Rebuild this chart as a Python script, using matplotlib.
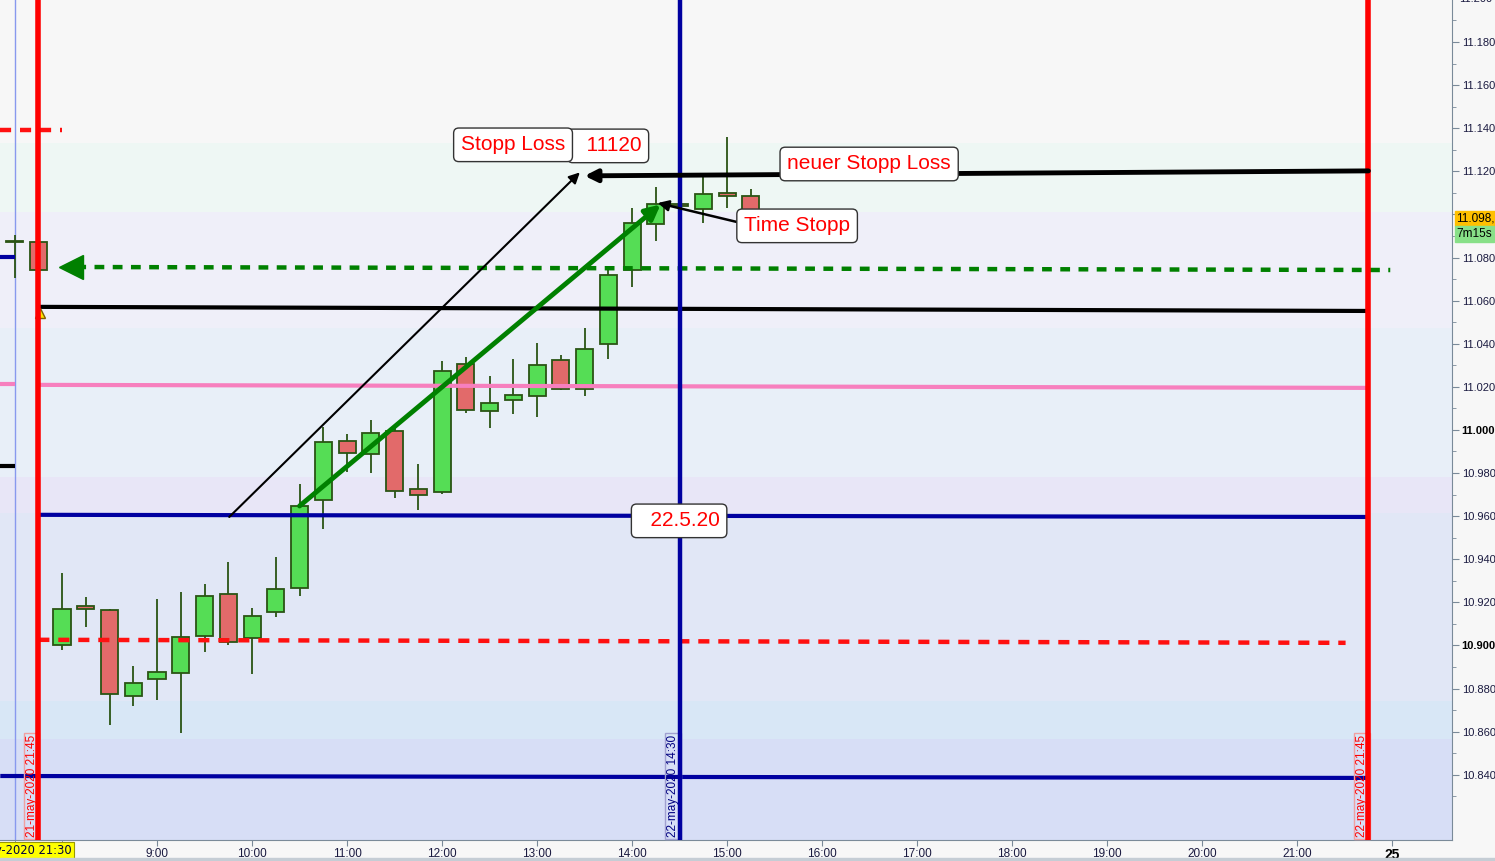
import matplotlib
matplotlib.use("Agg")
import matplotlib.pyplot as plt
import matplotlib.transforms as mtransforms
import numpy as np

plt.rcParams['font.family'] = ['Liberation Sans', 'DejaVu Sans']

# --- candles (time, open, high, low, close) ---
prev_times = ["21:30", "21:45"]
prev_open = [11.0872, 11.0872]
prev_high = [11.0905, 11.0872]
prev_low = [11.0705, 11.0742]
prev_close = [11.0876, 11.0742]

day_times = ["8:00", "8:15", "8:30", "8:45", "9:00", "9:15", "9:30", "9:45",
             "10:00", "10:15", "10:30", "10:45", "11:00", "11:15", "11:30", "11:45",
             "12:00", "12:15", "12:30", "12:45", "13:00", "13:15", "13:30", "13:45",
             "14:00", "14:15", "14:30", "14:45", "15:00", "15:15"]
day_open = [10.9002, 10.9183, 10.9165, 10.8766, 10.8845, 10.8872, 10.9044, 10.9239,
            10.9035, 10.9155, 10.9267, 10.9675, 10.9949, 10.9889, 10.9995, 10.9726,
            10.9714, 11.0306, 11.0088, 11.0139, 11.0158, 11.0325, 11.0190, 11.0399,
            11.0742, 11.0956, 11.1049, 11.1026, 11.1100, 11.1086]
day_high = [10.9336, 10.9225, 10.9170, 10.8905, 10.9216, 10.9248, 10.9285, 10.9387,
            10.9174, 10.9411, 10.9749, 11.0014, 10.9981, 11.0046, 11.0014, 10.9842,
            11.0320, 11.0339, 11.0251, 11.0329, 11.0404, 11.0348, 11.0473, 11.0752,
            11.1030, 11.1129, 11.1049, 11.1175, 11.1360, 11.1118]
day_low = [10.8979, 10.9086, 10.8631, 10.8719, 10.8747, 10.8594, 10.8970, 10.9002,
           10.8868, 10.9132, 10.9230, 10.9541, 10.9805, 10.9800, 10.9684, 10.9629,
           10.9703, 11.0080, 11.0010, 11.0076, 11.0062, 11.0186, 11.0158, 11.0329,
           11.0664, 11.0877, 11.1039, 11.0961, 11.1030, 11.0982]
day_close = [10.9169, 10.9169, 10.8775, 10.8826, 10.8877, 10.9039, 10.9230, 10.9016,
             10.9137, 10.9262, 10.9647, 10.9944, 10.9893, 10.9986, 10.9717, 10.9698,
             11.0274, 11.0094, 11.0125, 11.0162, 11.0302, 11.0190, 11.0376, 11.0719,
             11.0961, 11.1049, 11.1039, 11.1095, 11.1086, 11.0982]

# --- drawn lines (x0, p0, x1, p1) in hours / price ---
black_line = (7.75, 11.0571, 21.75, 11.0552)
pink_line = (7.75, 11.0209, 21.75, 11.0195)
blue_line_mid = (7.75, 10.9606, 21.75, 10.9596)
blue_line_low = (7.35, 10.8394, 21.75, 10.8385)
red_dash_line = (7.75, 10.9026, 21.51, 10.9012)
green_dash_line = (8.15, 11.0756, 21.98, 11.0742)
stopp_line = (21.75, 11.1202, 13.50, 11.1179)
left_red_dash = (7.35, 11.1392, 8.0, 11.1392)
left_blue = (7.35, 11.0803, 7.5, 11.0803)
left_pink = (7.35, 11.0213, 7.5, 11.0213)
left_black = (7.35, 10.9833, 7.5, 10.9833)

thin_arrow = (9.76, 10.9596, 13.45, 11.1195)
green_arrow = (10.50, 10.9647, 14.30, 11.1046)
time_arrow = (15.14, 11.0961, 14.27, 11.1053)

red_vlines = [7.75, 21.75]
blue_vline = 14.5
cursor_x = 7.5
last_price = 11.0982

band_edges = [11.25, 11.1332, 11.1012, 11.0473, 10.9782, 10.9615, 10.8742, 10.8566, 10.70]
band_colors = ["#f7f7f7", "#eef7f4", "#efeff9", "#e8eff8", "#e8e6f7", "#e1e7f6", "#d8e7f6", "#d7def6"]

xtick_pos = list(range(9, 23))
xtick_lab = [f"{h}:00" for h in range(9, 22)] + ["25"]


def to_hours(t, prev=False):
    h, m = map(int, t.split(":"))
    v = h + m / 60
    return v - 14 if prev else v


fig = plt.figure(figsize=(14.95, 8.61), dpi=100, facecolor="#f7f7f7")
ax = fig.add_axes([0, 21 / 861, 1452 / 1495, 840 / 861])
ax.set_xlim(7.347, 22.63)
ax.set_ylim(10.8097, 11.1995)

# background bands
for i, c in enumerate(band_colors):
    ax.axhspan(band_edges[i + 1], band_edges[i], color=c, zorder=0, lw=0)

# candles
xs = [to_hours(t, True) for t in prev_times] + [to_hours(t) for t in day_times]
o = np.array(prev_open + day_open)
hi = np.array(prev_high + day_high)
lo = np.array(prev_low + day_low)
c = np.array(prev_close + day_close)
up = c >= o
ax.vlines(xs, lo, hi, color="#2a5414", lw=1.3, zorder=3)
body_h = np.maximum(np.abs(c - o), 0.0003)
ax.bar(xs, body_h, bottom=np.minimum(o, c), width=0.18,
       color=np.where(up, "#55dd55", "#e26a6a"), edgecolor="#2a5414",
       lw=1.3, zorder=4)


def seg(s, **kw):
    ax.plot([s[0], s[2]], [s[1], s[3]], solid_capstyle="butt", **kw)


seg(black_line, color="black", lw=3, zorder=5)
seg(pink_line, color="#f77fbe", lw=3, zorder=5)
seg(blue_line_mid, color="#0000a0", lw=3, zorder=5)
seg(blue_line_low, color="#0000a0", lw=3, zorder=5)
seg(red_dash_line, color="#ff1010", lw=3.2, dashes=(2.5, 2.0), zorder=5)
seg(green_dash_line, color="#008000", lw=3.2, dashes=(2.2, 1.9), zorder=5)
seg(left_red_dash, color="#ff1010", lw=3.2, dashes=(2.5, 2.0), zorder=5)
seg(left_blue, color="#0000a0", lw=3, zorder=5)
seg(left_pink, color="#f77fbe", lw=3, zorder=5)
seg(left_black, color="black", lw=3, zorder=5)
ax.plot(8.09, green_dash_line[1], marker="<", ms=17, color="#008000", zorder=6)
ax.plot(7.768, 11.0543, marker="^", ms=7, color="#ffe000", mec="#806000", zorder=6)

ax.axvline(cursor_x, color="#8899ee", lw=1, zorder=2)
for v in red_vlines:
    ax.axvline(v, color="#ff0000", lw=4, zorder=7)
ax.axvline(blue_vline, color="#0000a0", lw=3.2, zorder=7)

# arrows
ax.annotate("", xy=(stopp_line[2], stopp_line[3]), xytext=(stopp_line[0], stopp_line[1]),
            arrowprops=dict(arrowstyle="-|>", color="black", lw=3.5, mutation_scale=18,
                            shrinkA=0, shrinkB=0), zorder=8)
ax.annotate("", xy=(thin_arrow[2], thin_arrow[3]), xytext=(thin_arrow[0], thin_arrow[1]),
            arrowprops=dict(arrowstyle="-|>", color="black", lw=1.5, mutation_scale=16,
                            shrinkA=0, shrinkB=0), zorder=8)
ax.annotate("", xy=(green_arrow[2], green_arrow[3]), xytext=(green_arrow[0], green_arrow[1]),
            arrowprops=dict(arrowstyle="-|>", color="#008000", lw=3.5, mutation_scale=22,
                            shrinkA=0, shrinkB=0), zorder=8)
ax.annotate("", xy=(time_arrow[2], time_arrow[3]), xytext=(time_arrow[0], time_arrow[1]),
            arrowprops=dict(arrowstyle="-|>", color="black", lw=1.8, mutation_scale=16,
                            shrinkA=0, shrinkB=0), zorder=8)

# text boxes
box = dict(boxstyle="round,pad=0.35,rounding_size=0.25", fc="white", ec="#333333", lw=1)
ax.text(13.747, 11.1318, "  11120", fontsize=15, color="#ff0000", ha="center", va="center",
        bbox=box, zorder=9)
ax.text(12.747, 11.1323, "Stopp Loss", fontsize=15, color="#ff0000", ha="center", va="center",
        bbox=box, zorder=10)
ax.text(16.495, 11.1234, "neuer Stopp Loss", fontsize=15, color="#ff0000", ha="center",
        va="center", bbox=box, zorder=10)
ax.text(15.737, 11.0947, "Time Stopp", fontsize=15, color="#ff0000", ha="center", va="center",
        bbox=box, zorder=10)
ax.text(14.495, 10.9578, "  22.5.20", fontsize=15, color="#ff0000", ha="center", va="center",
        bbox=box, zorder=10)

# vertical date labels
vlabels = [(7.75, "21-may-2020 21:45", "#ff0000", "#f0a0a0"),
           (14.5, "22-may-2020 14:30", "#000080", "#a0a0d0"),
           (21.75, "22-may-2020 21:45", "#ff0000", "#f0a0a0")]
for xv, lab, tc, ec in vlabels:
    ax.text(xv - 0.07, 10.8112, lab, rotation=90, fontsize=8.5, color=tc, ha="center",
            va="bottom", zorder=6,
            bbox=dict(boxstyle="square,pad=0.15", fc="none", ec=ec, lw=1))

# axes styling
for s in ["top", "left"]:
    ax.spines[s].set_visible(False)
for s in ["bottom", "right"]:
    ax.spines[s].set_color("#7a8a99")
ax.yaxis.tick_right()
yt = np.round(np.arange(10.84, 11.19, 0.02), 3)
ax.set_yticks(yt)
# 11.100 sits behind the last-price label
ax.set_yticklabels(["" if abs(v - 11.1) < 1e-6 else f"{v:.3f}" for v in yt],
                   fontsize=8, color="#1a1a40")
for lbl, v in zip(ax.get_yticklabels(), yt):
    if abs(v - 11.0) < 1e-6 or abs(v - 10.9) < 1e-6:
        lbl.set_fontweight("bold")
        lbl.set_color("black")
ax.set_yticks(np.round(np.arange(10.83, 11.20, 0.01), 3), minor=True)
ax.tick_params(axis="y", which="major", length=5, color="#7a8a99", pad=2)
ax.tick_params(axis="y", which="minor", length=3, color="#7a8a99")
ax.set_xticks(xtick_pos)
ax.set_xticklabels(xtick_lab, fontsize=8.5, color="#1a1a40")
ax.get_xticklabels()[-1].set_fontweight("bold")
ax.get_xticklabels()[-1].set_fontsize(10)
ax.get_xticklabels()[-1].set_color("black")
ax.set_xticks([7.5, 8.0], minor=True)
ax.tick_params(axis="x", which="both", length=4, color="#7a8a99", pad=2)

tr = mtransforms.blended_transform_factory(ax.transAxes, ax.transData)
ax.text(1.0048, 11.200, "11.200", transform=tr, fontsize=8, color="#1a1a40",
        va="center", ha="left", clip_on=False)

# last price / countdown labels
ax.text(1.003, last_price, "11.098,", transform=tr, fontsize=8.5, color="black", va="center",
        ha="left", clip_on=False, zorder=20,
        bbox=dict(boxstyle="square,pad=0.15", fc="#ffc000", ec="#ffc000"))
ax.text(1.003, last_price - 0.0072, "7m15s", transform=tr, fontsize=8.5, color="black",
        va="center", ha="left", clip_on=False, zorder=20,
        bbox=dict(boxstyle="square,pad=0.15", fc="#88e088", ec="#88e088"))

# cursor label on time axis
trx = mtransforms.blended_transform_factory(ax.transData, ax.transAxes)
ax.text(cursor_x, -0.0125, "21-may-2020 21:30", transform=trx, fontsize=8.3,
        family="DejaVu Sans", color="#000040", ha="center", va="center", clip_on=False,
        bbox=dict(boxstyle="square,pad=0.2", fc="#ffff00", ec="#999900", lw=0.8))

fig.patches.append(plt.Rectangle((0, 0), 1, 3 / 861, transform=fig.transFigure,
                                 color="#c5cdd5", zorder=0))

fig.savefig("out.png", dpi=100, facecolor=fig.get_facecolor())
